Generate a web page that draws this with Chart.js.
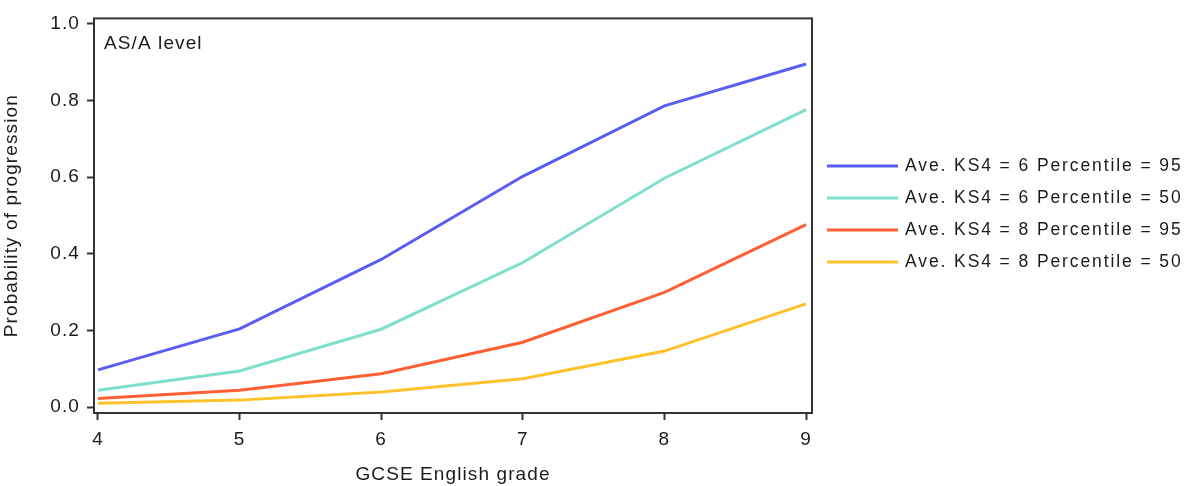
<!DOCTYPE html>
<html>
<head>
<meta charset="utf-8">
<script src="https://cdn.jsdelivr.net/npm/chart.js@4"></script>
<style>
  html, body { margin: 0; padding: 0; background: #fff; }
  #wrap { width: 1190px; height: 486px; }
</style>
</head>
<body>
<div id="wrap"><canvas id="grafico"></canvas></div>
<script>
// --- DATOS ---
const grados = [4, 5, 6, 7, 8, 9];
const yTicks = [0, 0.2, 0.4, 0.6, 0.8, 1.0];
const etiquetas = [
    'Ave. KS4 = 6 Percentile = 95',
    'Ave. KS4 = 6 Percentile = 50',
    'Ave. KS4 = 8 Percentile = 95',
    'Ave. KS4 = 8 Percentile = 50'
];
const ks4_6_p95 = [0.097, 0.204, 0.385, 0.602, 0.786, 0.895];
const ks4_6_p50 = [0.044, 0.094, 0.203, 0.377, 0.597, 0.776];
const ks4_8_p95 = [0.022, 0.044, 0.087, 0.169, 0.299, 0.476];
const ks4_8_p50 = [0.010, 0.018, 0.039, 0.074, 0.146, 0.269];
const colores = ['#5c5cf2', '#80dfcc', '#ff5f35', '#ffc22a'];

const series = [ks4_6_p95, ks4_6_p50, ks4_8_p95, ks4_8_p50];
const tinta = '#1a1a1a';
const fuente = 'Arial, "Liberation Sans", sans-serif';

// Espaciado de letras (el canvas lo pierde al redimensionar, por eso se repite)
const espaciado = {
    id: 'espaciado',
    beforeLayout(chart) { chart.ctx.letterSpacing = '1.1px'; },
    beforeDraw(chart) { chart.ctx.letterSpacing = '1.1px'; }
};

// Marco completo, texto del panel y leyenda a la derecha
const extras = {
    id: 'extras',
    afterDraw(chart) {
        const ctx = chart.ctx;
        const a = chart.chartArea;
        ctx.save();
        ctx.strokeStyle = '#333';
        ctx.lineWidth = 2;
        ctx.strokeRect(a.left, a.top, a.right - a.left, a.bottom - a.top);

        ctx.letterSpacing = '1.1px';
        ctx.fillStyle = tinta;
        ctx.font = '19px ' + fuente;
        ctx.textBaseline = 'middle';
        ctx.textAlign = 'left';
        ctx.fillText('AS/A level', a.left + 10, a.top + 25);

        ctx.letterSpacing = '1.9px';
        ctx.font = '17.5px ' + fuente;
        chart.data.datasets.forEach((ds, i) => {
            const y = 166 + i * 32;
            ctx.strokeStyle = ds.borderColor;
            ctx.lineWidth = 3;
            ctx.beginPath();
            ctx.moveTo(827, y);
            ctx.lineTo(898, y);
            ctx.stroke();
            ctx.fillStyle = tinta;
            ctx.fillText(ds.label, 905, y);
        });
        ctx.restore();
    }
};

const ctx = document.getElementById('grafico').getContext('2d');
new Chart(ctx, {
    type: 'line',
    data: {
        datasets: series.map((s, i) => ({
            label: etiquetas[i],
            data: grados.map((g, j) => ({ x: g, y: s[j] })),
            borderColor: colores[i],
            borderWidth: 3,
            pointRadius: 0,
            tension: 0,
            fill: false,
            order: 4 - i
        }))
    },
    options: {
        responsive: true,
        maintainAspectRatio: false,
        animation: false,
        layout: { padding: { left: 0, right: 378, top: 16, bottom: 0 } },
        plugins: { legend: { display: false }, tooltip: { enabled: false } },
        scales: {
            x: {
                type: 'linear',
                min: 3.972,
                max: 9.042,
                afterBuildTicks: (scale) => { scale.ticks = grados.map(v => ({ value: v })); },
                afterFit: (scale) => { scale.height = 73; },
                grid: { drawOnChartArea: false, tickLength: 7, tickColor: '#333', tickWidth: 2 },
                border: { display: false },
                ticks: { color: tinta, padding: 8, font: { size: 19, family: fuente } },
                title: { display: true, text: 'GCSE English grade', color: tinta, font: { size: 19, family: fuente }, padding: { top: 3, bottom: 0 } }
            },
            y: {
                type: 'linear',
                min: -0.0156,
                max: 1.014,
                afterBuildTicks: (scale) => { scale.ticks = yTicks.map(v => ({ value: v })); },
                afterFit: (scale) => { scale.width = 94; },
                grid: { drawOnChartArea: false, tickLength: 7, tickColor: '#333', tickWidth: 2 },
                border: { display: false },
                ticks: { color: tinta, padding: 7, font: { size: 19, family: fuente }, callback: (v) => v.toFixed(1) },
                title: { display: true, text: 'Probability of progression', color: tinta, font: { size: 19, family: fuente }, padding: { top: 0, bottom: 1 } }
            }
        }
    },
    plugins: [espaciado, extras]
});
</script>
</body>
</html>
